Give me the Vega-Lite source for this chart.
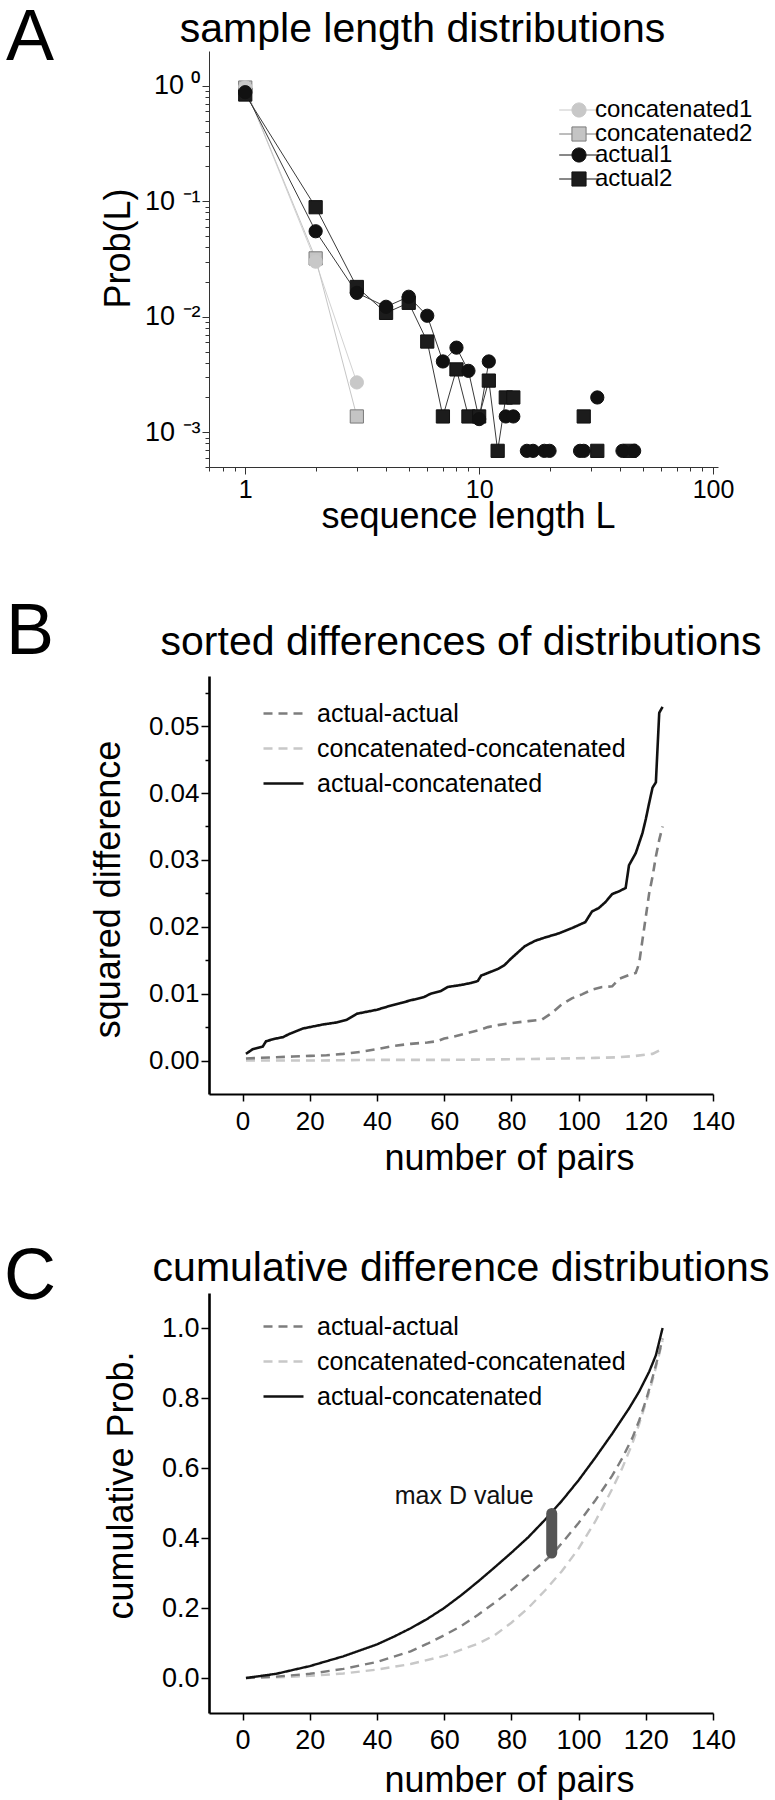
{
  "$schema": "https://vega.github.io/schema/vega-lite/v6.json",
  "padding": {"left": 2, "top": 2, "right": 2, "bottom": 2},
  "config": {
    "font": "Liberation Sans",
    "view": {"stroke": null},
    "axis": {"grid": false, "labelColor": "#000", "titleColor": "#000", "titleFontWeight": "normal", "labelFont": "Liberation Sans", "titleFont": "Liberation Sans", "domainColor": "#000", "tickColor": "#000", "labelFlush": false, "labelOverlap": false, "labelBound": false},
    "title": {"fontWeight": "normal", "color": "#000", "font": "Liberation Sans", "fontSize": 41},
    "legend": {"labelFont": "Liberation Sans", "labelColor": "#000", "padding": 0, "labelLimit": 500}
  },
  "datasets": {
    "lengths": [
      {"series": "concatenated1", "run": "c1", "L": 1, "p": 0.97},
      {"series": "concatenated1", "run": "c1", "L": 2, "p": 0.030},
      {"series": "concatenated1", "run": "c1", "L": 3, "p": 0.0027},
      {"series": "concatenated2", "run": "c2", "L": 1, "p": 0.965},
      {"series": "concatenated2", "run": "c2", "L": 2, "p": 0.032},
      {"series": "concatenated2", "run": "c2", "L": 3, "p": 0.00137},
      {"series": "actual1", "run": "a1a", "L": 1, "p": 0.88},
      {"series": "actual1", "run": "a1a", "L": 2, "p": 0.055},
      {"series": "actual1", "run": "a1a", "L": 3, "p": 0.0161},
      {"series": "actual1", "run": "a1a", "L": 4, "p": 0.0122},
      {"series": "actual1", "run": "a1a", "L": 5, "p": 0.0149},
      {"series": "actual1", "run": "a1a", "L": 6, "p": 0.0102},
      {"series": "actual1", "run": "a1a", "L": 7, "p": 0.0041},
      {"series": "actual1", "run": "a1a", "L": 8, "p": 0.0054},
      {"series": "actual1", "run": "a1a", "L": 9, "p": 0.0034},
      {"series": "actual1", "run": "a1a", "L": 10, "p": 0.0013},
      {"series": "actual1", "run": "a1a", "L": 11, "p": 0.0041},
      {"series": "actual1", "run": "a1b", "L": 13, "p": 0.00137},
      {"series": "actual1", "run": "a1b", "L": 14, "p": 0.00137},
      {"series": "actual1", "run": "a1c", "L": 16, "p": 0.00069},
      {"series": "actual1", "run": "a1c", "L": 17, "p": 0.00069},
      {"series": "actual1", "run": "a1d", "L": 19, "p": 0.00069},
      {"series": "actual1", "run": "a1d", "L": 20, "p": 0.00069},
      {"series": "actual1", "run": "a1e", "L": 27, "p": 0.00069},
      {"series": "actual1", "run": "a1e", "L": 28, "p": 0.00069},
      {"series": "actual1", "run": "a1f", "L": 32, "p": 0.0020},
      {"series": "actual1", "run": "a1g", "L": 41, "p": 0.00069},
      {"series": "actual1", "run": "a1h", "L": 46, "p": 0.00069},
      {"series": "actual2", "run": "a2a", "L": 1, "p": 0.84},
      {"series": "actual2", "run": "a2a", "L": 2, "p": 0.0888},
      {"series": "actual2", "run": "a2a", "L": 3, "p": 0.0181},
      {"series": "actual2", "run": "a2a", "L": 4, "p": 0.0108},
      {"series": "actual2", "run": "a2a", "L": 5, "p": 0.0132},
      {"series": "actual2", "run": "a2a", "L": 6, "p": 0.0061},
      {"series": "actual2", "run": "a2a", "L": 7, "p": 0.00137},
      {"series": "actual2", "run": "a2a", "L": 8, "p": 0.0035},
      {"series": "actual2", "run": "a2a", "L": 9, "p": 0.00137},
      {"series": "actual2", "run": "a2a", "L": 10, "p": 0.00137},
      {"series": "actual2", "run": "a2a", "L": 11, "p": 0.0028},
      {"series": "actual2", "run": "a2a", "L": 12, "p": 0.00069},
      {"series": "actual2", "run": "a2a", "L": 13, "p": 0.0020},
      {"series": "actual2", "run": "a2a", "L": 14, "p": 0.0020},
      {"series": "actual2", "run": "a2b", "L": 28, "p": 0.00137},
      {"series": "actual2", "run": "a2c", "L": 32, "p": 0.00069},
      {"series": "actual2", "run": "a2d", "L": 44, "p": 0.00069}
    ],
    "sorted": [
      {"pair": "concatenated-concatenated", "n": 1, "d": 0.0000},
      {"pair": "concatenated-concatenated", "n": 20, "d": 0.0000},
      {"pair": "concatenated-concatenated", "n": 40, "d": 0.0001},
      {"pair": "concatenated-concatenated", "n": 60, "d": 0.0001},
      {"pair": "concatenated-concatenated", "n": 80, "d": 0.0002},
      {"pair": "concatenated-concatenated", "n": 95, "d": 0.0003},
      {"pair": "concatenated-concatenated", "n": 105, "d": 0.0004},
      {"pair": "concatenated-concatenated", "n": 112, "d": 0.0005},
      {"pair": "concatenated-concatenated", "n": 117, "d": 0.0007},
      {"pair": "concatenated-concatenated", "n": 120, "d": 0.0009},
      {"pair": "concatenated-concatenated", "n": 122, "d": 0.0010},
      {"pair": "concatenated-concatenated", "n": 124, "d": 0.0015},
      {"pair": "actual-actual", "n": 1, "d": 0.0003},
      {"pair": "actual-actual", "n": 5, "d": 0.0004},
      {"pair": "actual-actual", "n": 10, "d": 0.0005},
      {"pair": "actual-actual", "n": 15, "d": 0.0006},
      {"pair": "actual-actual", "n": 20, "d": 0.0007},
      {"pair": "actual-actual", "n": 25, "d": 0.0008},
      {"pair": "actual-actual", "n": 30, "d": 0.0010},
      {"pair": "actual-actual", "n": 35, "d": 0.0013},
      {"pair": "actual-actual", "n": 40, "d": 0.0017},
      {"pair": "actual-actual", "n": 45, "d": 0.0022},
      {"pair": "actual-actual", "n": 50, "d": 0.0025},
      {"pair": "actual-actual", "n": 55, "d": 0.0027},
      {"pair": "actual-actual", "n": 58, "d": 0.0029},
      {"pair": "actual-actual", "n": 60, "d": 0.0033},
      {"pair": "actual-actual", "n": 63, "d": 0.0036},
      {"pair": "actual-actual", "n": 66, "d": 0.0040},
      {"pair": "actual-actual", "n": 70, "d": 0.0045},
      {"pair": "actual-actual", "n": 73, "d": 0.0050},
      {"pair": "actual-actual", "n": 76, "d": 0.0053},
      {"pair": "actual-actual", "n": 80, "d": 0.0056},
      {"pair": "actual-actual", "n": 85, "d": 0.0059},
      {"pair": "actual-actual", "n": 89, "d": 0.0061},
      {"pair": "actual-actual", "n": 92, "d": 0.0071},
      {"pair": "actual-actual", "n": 95, "d": 0.0084},
      {"pair": "actual-actual", "n": 98, "d": 0.0093},
      {"pair": "actual-actual", "n": 101, "d": 0.0099},
      {"pair": "actual-actual", "n": 104, "d": 0.0106},
      {"pair": "actual-actual", "n": 107, "d": 0.0110},
      {"pair": "actual-actual", "n": 110, "d": 0.0111},
      {"pair": "actual-actual", "n": 112, "d": 0.0122},
      {"pair": "actual-actual", "n": 115, "d": 0.0128},
      {"pair": "actual-actual", "n": 117, "d": 0.0131},
      {"pair": "actual-actual", "n": 118, "d": 0.0145},
      {"pair": "actual-actual", "n": 119, "d": 0.0180},
      {"pair": "actual-actual", "n": 120, "d": 0.0215},
      {"pair": "actual-actual", "n": 121, "d": 0.0250},
      {"pair": "actual-actual", "n": 122, "d": 0.0275},
      {"pair": "actual-actual", "n": 123, "d": 0.0305},
      {"pair": "actual-actual", "n": 124, "d": 0.0330},
      {"pair": "actual-actual", "n": 125, "d": 0.0350},
      {"pair": "actual-concatenated", "n": 1, "d": 0.0010},
      {"pair": "actual-concatenated", "n": 3, "d": 0.0017},
      {"pair": "actual-concatenated", "n": 6, "d": 0.0021},
      {"pair": "actual-concatenated", "n": 7, "d": 0.0029},
      {"pair": "actual-concatenated", "n": 10, "d": 0.0033},
      {"pair": "actual-concatenated", "n": 12, "d": 0.0035},
      {"pair": "actual-concatenated", "n": 14, "d": 0.0040},
      {"pair": "actual-concatenated", "n": 16, "d": 0.0044},
      {"pair": "actual-concatenated", "n": 18, "d": 0.0048},
      {"pair": "actual-concatenated", "n": 20, "d": 0.0050},
      {"pair": "actual-concatenated", "n": 24, "d": 0.0054},
      {"pair": "actual-concatenated", "n": 28, "d": 0.0057},
      {"pair": "actual-concatenated", "n": 31, "d": 0.0061},
      {"pair": "actual-concatenated", "n": 34, "d": 0.0070},
      {"pair": "actual-concatenated", "n": 37, "d": 0.0073},
      {"pair": "actual-concatenated", "n": 40, "d": 0.0076},
      {"pair": "actual-concatenated", "n": 44, "d": 0.0082},
      {"pair": "actual-concatenated", "n": 47, "d": 0.0086},
      {"pair": "actual-concatenated", "n": 50, "d": 0.0090},
      {"pair": "actual-concatenated", "n": 54, "d": 0.0095},
      {"pair": "actual-concatenated", "n": 56, "d": 0.0100},
      {"pair": "actual-concatenated", "n": 59, "d": 0.0104},
      {"pair": "actual-concatenated", "n": 61, "d": 0.0110},
      {"pair": "actual-concatenated", "n": 65, "d": 0.0113},
      {"pair": "actual-concatenated", "n": 68, "d": 0.0116},
      {"pair": "actual-concatenated", "n": 70, "d": 0.0119},
      {"pair": "actual-concatenated", "n": 71, "d": 0.0127},
      {"pair": "actual-concatenated", "n": 73, "d": 0.0131},
      {"pair": "actual-concatenated", "n": 76, "d": 0.0137},
      {"pair": "actual-concatenated", "n": 78, "d": 0.0143},
      {"pair": "actual-concatenated", "n": 80, "d": 0.0153},
      {"pair": "actual-concatenated", "n": 82, "d": 0.0162},
      {"pair": "actual-concatenated", "n": 84, "d": 0.0171},
      {"pair": "actual-concatenated", "n": 87, "d": 0.0179},
      {"pair": "actual-concatenated", "n": 90, "d": 0.0184},
      {"pair": "actual-concatenated", "n": 94, "d": 0.0190},
      {"pair": "actual-concatenated", "n": 98, "d": 0.0198},
      {"pair": "actual-concatenated", "n": 102, "d": 0.0207},
      {"pair": "actual-concatenated", "n": 104, "d": 0.0223},
      {"pair": "actual-concatenated", "n": 106, "d": 0.0228},
      {"pair": "actual-concatenated", "n": 108, "d": 0.0237},
      {"pair": "actual-concatenated", "n": 110, "d": 0.0249},
      {"pair": "actual-concatenated", "n": 112, "d": 0.0253},
      {"pair": "actual-concatenated", "n": 114, "d": 0.0258},
      {"pair": "actual-concatenated", "n": 115, "d": 0.0292},
      {"pair": "actual-concatenated", "n": 117, "d": 0.0310},
      {"pair": "actual-concatenated", "n": 119, "d": 0.0340},
      {"pair": "actual-concatenated", "n": 120, "d": 0.0361},
      {"pair": "actual-concatenated", "n": 121, "d": 0.0385},
      {"pair": "actual-concatenated", "n": 122, "d": 0.0408},
      {"pair": "actual-concatenated", "n": 123, "d": 0.0416},
      {"pair": "actual-concatenated", "n": 124, "d": 0.0520},
      {"pair": "actual-concatenated", "n": 125, "d": 0.0529}
    ],
    "cumul": [
      {"pair": "concatenated-concatenated", "n": 1, "c": 0.0},
      {"pair": "concatenated-concatenated", "n": 10, "c": 0.002},
      {"pair": "concatenated-concatenated", "n": 20, "c": 0.006},
      {"pair": "concatenated-concatenated", "n": 30, "c": 0.013},
      {"pair": "concatenated-concatenated", "n": 40, "c": 0.024},
      {"pair": "concatenated-concatenated", "n": 50, "c": 0.040},
      {"pair": "concatenated-concatenated", "n": 60, "c": 0.063},
      {"pair": "concatenated-concatenated", "n": 70, "c": 0.098},
      {"pair": "concatenated-concatenated", "n": 75, "c": 0.122},
      {"pair": "concatenated-concatenated", "n": 80, "c": 0.158},
      {"pair": "concatenated-concatenated", "n": 85, "c": 0.200},
      {"pair": "concatenated-concatenated", "n": 90, "c": 0.250},
      {"pair": "concatenated-concatenated", "n": 95, "c": 0.305},
      {"pair": "concatenated-concatenated", "n": 100, "c": 0.370},
      {"pair": "concatenated-concatenated", "n": 105, "c": 0.448},
      {"pair": "concatenated-concatenated", "n": 110, "c": 0.540},
      {"pair": "concatenated-concatenated", "n": 113, "c": 0.600},
      {"pair": "concatenated-concatenated", "n": 116, "c": 0.670},
      {"pair": "concatenated-concatenated", "n": 118, "c": 0.725},
      {"pair": "concatenated-concatenated", "n": 120, "c": 0.785},
      {"pair": "concatenated-concatenated", "n": 122, "c": 0.850},
      {"pair": "concatenated-concatenated", "n": 124, "c": 0.925},
      {"pair": "concatenated-concatenated", "n": 125, "c": 0.965},
      {"pair": "actual-actual", "n": 1, "c": 0.0},
      {"pair": "actual-actual", "n": 10, "c": 0.004},
      {"pair": "actual-actual", "n": 20, "c": 0.012},
      {"pair": "actual-actual", "n": 30, "c": 0.026},
      {"pair": "actual-actual", "n": 40, "c": 0.046},
      {"pair": "actual-actual", "n": 50, "c": 0.076},
      {"pair": "actual-actual", "n": 55, "c": 0.098},
      {"pair": "actual-actual", "n": 60, "c": 0.122},
      {"pair": "actual-actual", "n": 65, "c": 0.148},
      {"pair": "actual-actual", "n": 70, "c": 0.180},
      {"pair": "actual-actual", "n": 75, "c": 0.215},
      {"pair": "actual-actual", "n": 80, "c": 0.252},
      {"pair": "actual-actual", "n": 85, "c": 0.293},
      {"pair": "actual-actual", "n": 90, "c": 0.335},
      {"pair": "actual-actual", "n": 92, "c": 0.352},
      {"pair": "actual-actual", "n": 95, "c": 0.385},
      {"pair": "actual-actual", "n": 100, "c": 0.443},
      {"pair": "actual-actual", "n": 105, "c": 0.508},
      {"pair": "actual-actual", "n": 110, "c": 0.578},
      {"pair": "actual-actual", "n": 113, "c": 0.628},
      {"pair": "actual-actual", "n": 116, "c": 0.686},
      {"pair": "actual-actual", "n": 118, "c": 0.735},
      {"pair": "actual-actual", "n": 120, "c": 0.792},
      {"pair": "actual-actual", "n": 122, "c": 0.858},
      {"pair": "actual-actual", "n": 124, "c": 0.930},
      {"pair": "actual-actual", "n": 125, "c": 0.970},
      {"pair": "actual-concatenated", "n": 1, "c": 0.0},
      {"pair": "actual-concatenated", "n": 10, "c": 0.012},
      {"pair": "actual-concatenated", "n": 20, "c": 0.034},
      {"pair": "actual-concatenated", "n": 30, "c": 0.062},
      {"pair": "actual-concatenated", "n": 40, "c": 0.096},
      {"pair": "actual-concatenated", "n": 45, "c": 0.118},
      {"pair": "actual-concatenated", "n": 50, "c": 0.142},
      {"pair": "actual-concatenated", "n": 55, "c": 0.169},
      {"pair": "actual-concatenated", "n": 60, "c": 0.200},
      {"pair": "actual-concatenated", "n": 65, "c": 0.236},
      {"pair": "actual-concatenated", "n": 70, "c": 0.275},
      {"pair": "actual-concatenated", "n": 75, "c": 0.316},
      {"pair": "actual-concatenated", "n": 80, "c": 0.358},
      {"pair": "actual-concatenated", "n": 85, "c": 0.402},
      {"pair": "actual-concatenated", "n": 90, "c": 0.452},
      {"pair": "actual-concatenated", "n": 95, "c": 0.506},
      {"pair": "actual-concatenated", "n": 100, "c": 0.565},
      {"pair": "actual-concatenated", "n": 105, "c": 0.630},
      {"pair": "actual-concatenated", "n": 110, "c": 0.698},
      {"pair": "actual-concatenated", "n": 115, "c": 0.770},
      {"pair": "actual-concatenated", "n": 118, "c": 0.818},
      {"pair": "actual-concatenated", "n": 121, "c": 0.875},
      {"pair": "actual-concatenated", "n": 123, "c": 0.922},
      {"pair": "actual-concatenated", "n": 125, "c": 1.000}
    ],
    "maxd": [{"n": 92, "lo": 0.357, "hi": 0.47, "label": "max D value"}]
  },
  "concat": [
    {
      "width": 56, "height": 426,
      "data": {"values": [{"panel": "A"}]},
      "mark": {"type": "text", "fontSize": 72, "baseline": "alphabetic", "align": "center", "dy": -204, "font": "Liberation Sans", "color": "#000"},
      "encoding": {"text": {"field": "panel"}}
    },
    {
      "width": 509, "height": 416,
      "title": {"text": "sample length distributions", "offset": 0, "dx": -41},
      "data": {"name": "lengths"},
      "layer": [
        {
          "mark": {"type": "line", "strokeWidth": 1},
          "encoding": {
            "x": {"field": "L", "type": "quantitative",
              "scale": {"type": "log", "domain": [0.7, 105], "nice": false},
              "axis": {
                "values": [0.7, 0.8, 0.9, 1, 2, 3, 4, 5, 6, 7, 8, 9, 10, 20, 30, 40, 50, 60, 70, 80, 90, 100],
                "labelExpr": "datum.value === 1 || datum.value === 10 || datum.value === 100 ? '' + datum.value : ''",
                "tickSize": {"condition": {"test": "datum.value === 1 || datum.value === 10 || datum.value === 100", "value": 7}, "value": 4},
                "domainColor": "#333", "tickColor": "#333", "domainWidth": 1, "tickWidth": 1,
                "labelFontSize": 25, "labelBaseline": "alphabetic", "labelPadding": 23,
                "title": "sequence length L", "titleFontSize": 36, "titleX": 259, "titleY": 60, "titleAlign": "center", "titleBaseline": "alphabetic", "titleAngle": 0
              }},
            "y": {"field": "p", "type": "quantitative",
              "scale": {"type": "log", "domain": [0.0005, 2], "nice": false},
              "axis": {
                "values": [0.0005, 0.0006, 0.0007, 0.0008, 0.0009, 0.001, 0.002, 0.003, 0.004, 0.005, 0.006, 0.007, 0.008, 0.009, 0.01, 0.02, 0.03, 0.04, 0.05, 0.06, 0.07, 0.08, 0.09, 0.1, 0.2, 0.3, 0.4, 0.5, 0.6, 0.7, 0.8, 0.9, 1],
                "labelExpr": "datum.value === 1 ? '10 ⁰' : datum.value === 0.1 ? '10 ⁻¹' : datum.value === 0.01 ? '10 ⁻²' : datum.value === 0.001 ? '10 ⁻³' : ''",
                "tickSize": {"condition": {"test": "datum.value === 1 || datum.value === 0.1 || datum.value === 0.01 || datum.value === 0.001", "value": 7}, "value": 4},
                "domainColor": "#333", "tickColor": "#333", "domainWidth": 1, "tickWidth": 1,
                "labelFontSize": 27, "labelPadding": 2, "labelBaseline": "middle",
                "title": "Prob(L)", "titleFontSize": 36, "titleX": -80, "titleY": 197, "titleAngle": -90, "titleAlign": "center", "titleBaseline": "alphabetic"
              }},
            "detail": {"field": "run"},
            "stroke": {"field": "series", "type": "nominal",
              "scale": {"domain": ["concatenated1", "concatenated2", "actual1", "actual2"], "range": ["#d2d2d2", "#c6c6c6", "#3a3a3a", "#3a3a3a"]},
              "legend": null}
          }
        },
        {
          "transform": [{"filter": "datum.series === 'concatenated2' || datum.series === 'actual2'"}],
          "mark": {"type": "point", "shape": "square", "filled": true, "size": 175, "strokeWidth": 1, "opacity": 1},
          "encoding": {
            "x": {"field": "L", "type": "quantitative"},
            "y": {"field": "p", "type": "quantitative"},
            "stroke": {"field": "series", "type": "nominal",
              "scale": {"domain": ["concatenated2", "actual2"], "range": ["#7a7a7a", "#111111"]},
              "legend": null},
            "fill": {"field": "series", "type": "nominal",
              "scale": {"domain": ["concatenated2", "actual2"], "range": ["#c4c4c4", "#1c1c1c"]},
              "legend": {"orient": "none", "legendX": 358, "legendY": 71, "title": null, "labelFontSize": 24, "symbolSize": 200, "labelOffset": 4, "rowPadding": 21,
                "symbolType": "M-2.8,0H-1M1,0H2.8M-1,-1H1V1H-1Z", "symbolStrokeColor": "#666666", "symbolStrokeWidth": 1, "symbolOpacity": 1}}
          }
        },
        {
          "transform": [{"filter": "datum.series === 'concatenated1' || datum.series === 'actual1'"}],
          "mark": {"type": "point", "shape": "circle", "filled": true, "size": 175, "strokeWidth": 1, "opacity": 1},
          "encoding": {
            "x": {"field": "L", "type": "quantitative"},
            "y": {"field": "p", "type": "quantitative"},
            "stroke": {"field": "series", "type": "nominal",
              "scale": {"domain": ["concatenated1", "actual1"], "range": ["#c8c8c8", "#111111"]},
              "legend": null},
            "color": {"field": "series", "type": "nominal",
              "scale": {"domain": ["concatenated1", "actual1"], "range": ["#c8c8c8", "#111111"]},
              "legend": {"orient": "none", "legendX": 358, "legendY": 47, "title": null, "labelFontSize": 24, "symbolSize": 200, "labelOffset": 4, "rowPadding": 21,
                "symbolType": "M-2.8,0H-1M1,0H2.8M-1,0A1,1,0,1,1,1,0A1,1,0,1,1,-1,0Z", "symbolStrokeColor": "#666666", "symbolStrokeWidth": 1, "symbolOpacity": 1}}
          }
        }
      ],
      "resolve": {"scale": {"stroke": "independent", "fill": "independent", "color": "independent"}}
    },
    {
      "width": 56, "height": 2,
      "data": {"values": [{"panel": "B"}]},
      "mark": {"type": "text", "fontSize": 72, "baseline": "alphabetic", "align": "center", "dy": -23, "font": "Liberation Sans", "color": "#000"},
      "encoding": {"text": {"field": "panel"}}
    },
    {
      "width": 504, "height": 418,
      "title": {"text": "sorted differences of distributions", "offset": 12},
      "data": {"name": "sorted"},
      "mark": {"type": "line", "strokeWidth": 2.6},
      "encoding": {
        "x": {"field": "n", "type": "quantitative",
          "scale": {"domain": [-10, 140], "nice": false, "zero": false},
          "axis": {
            "values": [0, 20, 40, 60, 80, 100, 120, 140],
            "tickSize": 7, "tickWidth": 1.5, "domainWidth": 2,
            "labelFontSize": 26, "labelBaseline": "alphabetic", "labelPadding": 28,
            "title": "number of pairs", "titleFontSize": 36, "titleX": 300, "titleY": 75, "titleAlign": "center", "titleBaseline": "alphabetic", "titleAngle": 0
          }},
        "y": {"field": "d", "type": "quantitative",
          "scale": {"domain": [-0.005, 0.0575], "nice": false, "zero": false},
          "axis": {
            "values": [0, 0.005, 0.01, 0.015, 0.02, 0.025, 0.03, 0.035, 0.04, 0.045, 0.05, 0.055],
            "labelExpr": "abs(datum.value * 100 - round(datum.value * 100)) < 0.001 ? format(datum.value, '.2f') : ''",
            "tickSize": {"condition": {"test": "abs(datum.value * 100 - round(datum.value * 100)) < 0.001", "value": 8}, "value": 4},
            "tickWidth": 1.5, "domainWidth": 2.6,
            "labelFontSize": 26, "labelPadding": 2, "labelBaseline": "middle",
            "title": "squared difference", "titleFontSize": 36, "titleX": -90, "titleY": 213, "titleAngle": -90, "titleAlign": "center", "titleBaseline": "alphabetic"
          }},
        "color": {"field": "pair", "type": "nominal",
          "scale": {"domain": ["actual-actual", "concatenated-concatenated", "actual-concatenated"], "range": ["#7d7d7d", "#c8c8c8", "#111111"]},
          "legend": {"orient": "none", "legendX": 53, "legendY": 16, "title": null, "labelFontSize": 25, "symbolType": "stroke", "symbolSize": 1600, "symbolStrokeWidth": 2.6, "labelOffset": 12, "rowPadding": -14}},
        "strokeDash": {"field": "pair", "type": "nominal",
          "scale": {"domain": ["actual-actual", "concatenated-concatenated", "actual-concatenated"], "range": [[9, 6], [9, 6], [1, 0]]},
          "legend": {"orient": "none", "legendX": 53, "legendY": 16, "title": null, "labelFontSize": 25, "symbolType": "stroke", "symbolSize": 1600, "symbolStrokeWidth": 2.6, "labelOffset": 12, "rowPadding": -14}}
      }
    },
    {
      "width": 56, "height": 2,
      "data": {"values": [{"panel": "C"}]},
      "mark": {"type": "text", "fontSize": 72, "baseline": "alphabetic", "align": "center", "dy": 5, "font": "Liberation Sans", "color": "#000"},
      "encoding": {"text": {"field": "panel"}}
    },
    {
      "width": 504, "height": 420,
      "title": {"text": "cumulative difference distributions", "offset": 3},
      "layer": [
        {
          "data": {"name": "cumul"},
          "mark": {"type": "line", "strokeWidth": 2.4},
          "encoding": {
            "x": {"field": "n", "type": "quantitative",
              "scale": {"domain": [-10, 140], "nice": false, "zero": false},
              "axis": {
                "values": [0, 20, 40, 60, 80, 100, 120, 140],
                "tickSize": 7, "tickWidth": 1.5, "domainWidth": 2,
                "labelFontSize": 27, "labelBaseline": "alphabetic", "labelPadding": 28,
                "title": "number of pairs", "titleFontSize": 36, "titleX": 300, "titleY": 78, "titleAlign": "center", "titleBaseline": "alphabetic", "titleAngle": 0
              }},
            "y": {"field": "c", "type": "quantitative",
              "scale": {"domain": [-0.1, 1.1], "nice": false, "zero": false},
              "axis": {
                "values": [0, 0.2, 0.4, 0.6, 0.8, 1.0],
                "format": ".1f",
                "tickSize": 8, "tickWidth": 1.5, "domainWidth": 2.6,
                "labelFontSize": 27, "labelPadding": 2, "labelBaseline": "middle",
                "title": "cumulative Prob.", "titleFontSize": 36, "titleX": -77, "titleY": 192, "titleAngle": -90, "titleAlign": "center", "titleBaseline": "alphabetic"
              }},
            "color": {"field": "pair", "type": "nominal",
              "scale": {"domain": ["actual-actual", "concatenated-concatenated", "actual-concatenated"], "range": ["#7d7d7d", "#c8c8c8", "#111111"]},
              "legend": {"orient": "none", "legendX": 53, "legendY": 12, "title": null, "labelFontSize": 25, "symbolType": "stroke", "symbolSize": 1600, "symbolStrokeWidth": 2.6, "labelOffset": 12, "rowPadding": -14}},
            "strokeDash": {"field": "pair", "type": "nominal",
              "scale": {"domain": ["actual-actual", "concatenated-concatenated", "actual-concatenated"], "range": [[9, 6], [9, 6], [1, 0]]},
              "legend": {"orient": "none", "legendX": 53, "legendY": 12, "title": null, "labelFontSize": 25, "symbolType": "stroke", "symbolSize": 1600, "symbolStrokeWidth": 2.6, "labelOffset": 12, "rowPadding": -14}}
          }
        },
        {
          "data": {"name": "maxd"},
          "mark": {"type": "rule", "strokeWidth": 11, "strokeCap": "round", "color": "#555555"},
          "encoding": {
            "x": {"field": "n", "type": "quantitative"},
            "y": {"field": "lo", "type": "quantitative"},
            "y2": {"field": "hi"}
          }
        },
        {
          "data": {"name": "maxd"},
          "mark": {"type": "text", "align": "right", "baseline": "alphabetic", "dx": -18, "dy": -10, "fontSize": 25, "color": "#111111"},
          "encoding": {
            "x": {"field": "n", "type": "quantitative"},
            "y": {"field": "hi", "type": "quantitative"},
            "text": {"field": "label"}
          }
        }
      ]
    }
  ],
  "columns": 2,
  "spacing": {"row": 199, "column": 151},
  "align": "each",
  "bounds": "flush",
  "resolve": {
    "scale": {"color": "independent", "fill": "independent", "stroke": "independent", "strokeDash": "independent", "shape": "independent"},
    "legend": {"color": "independent", "fill": "independent", "stroke": "independent", "strokeDash": "independent", "shape": "independent"}
  }
}
